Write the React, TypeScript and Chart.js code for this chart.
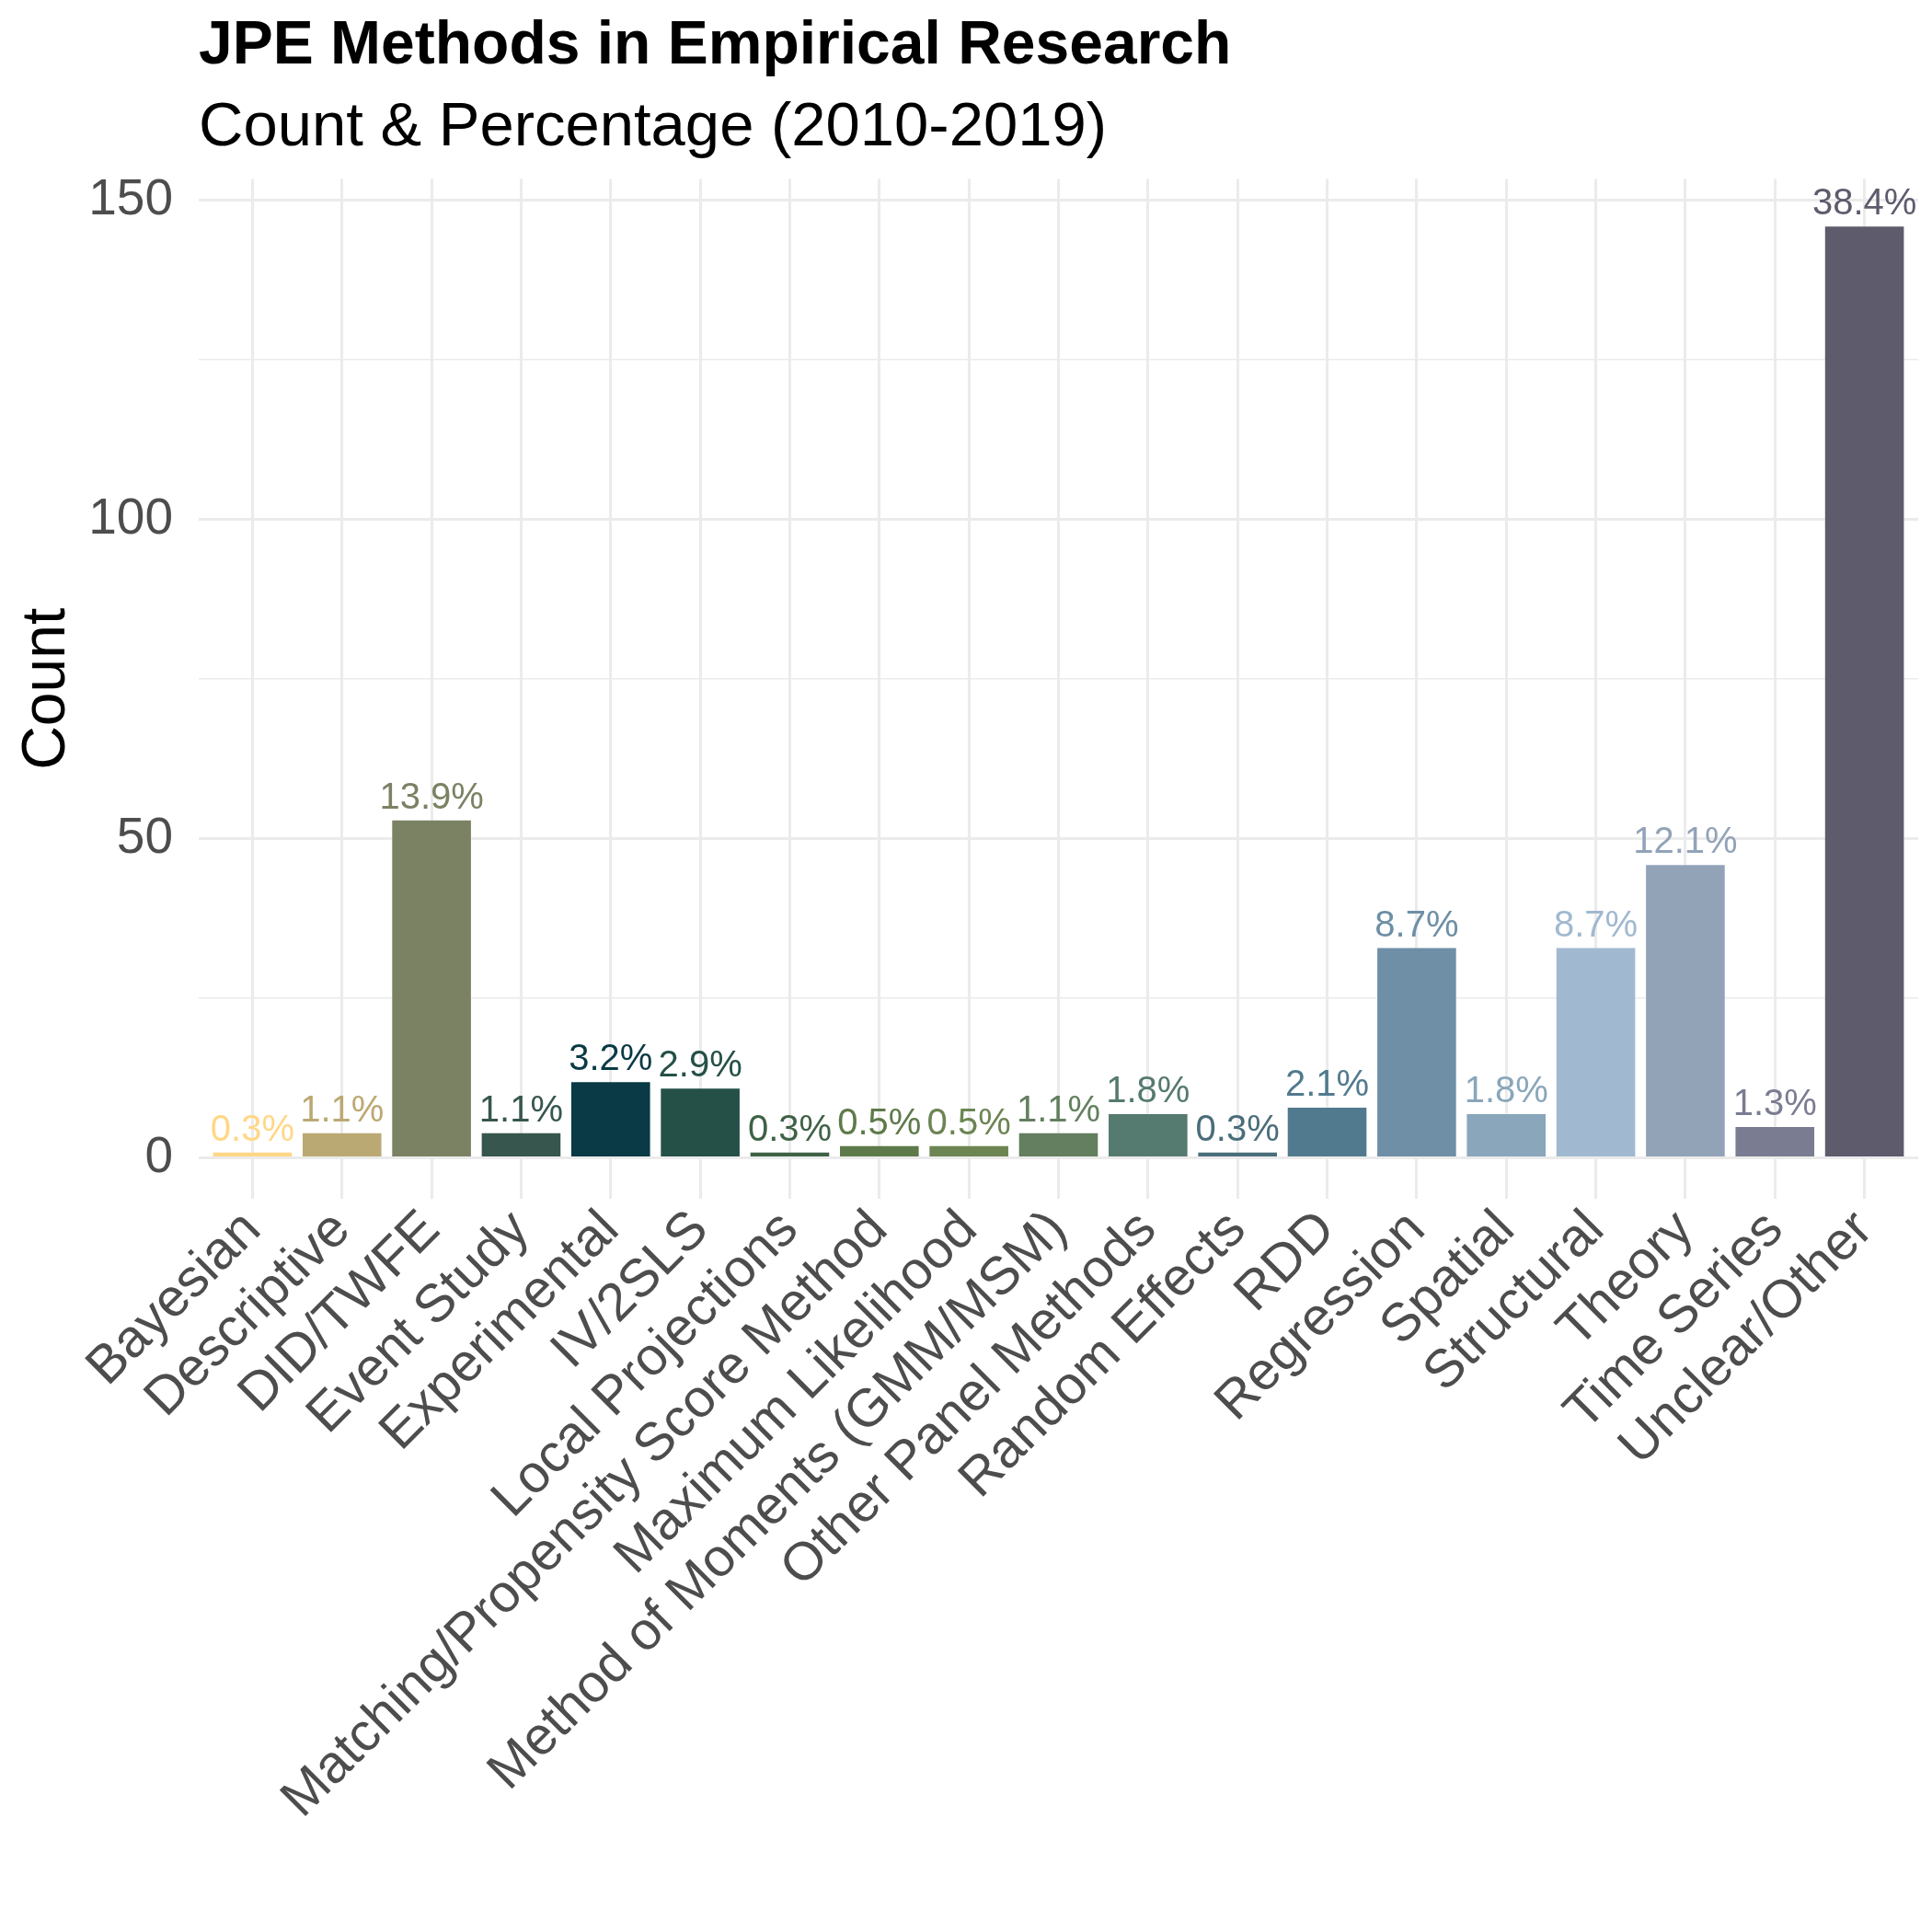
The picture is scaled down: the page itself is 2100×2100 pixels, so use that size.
import Chart from 'chart.js/auto';
import { useEffect, useRef } from 'react';

const categories = [
    'Bayesian', 'Descriptive', 'DID/TWFE', 'Event Study', 'Experimental', 'IV/2SLS',
    'Local Projections', 'Matching/Propensity Score Method', 'Maximum Likelihood',
    'Method of Moments (GMM/MSM)', 'Other Panel Methods', 'Random Effects', 'RDD',
    'Regression', 'Spatial', 'Structural', 'Theory', 'Time Series', 'Unclear/Other',
];

const counts = [1, 4, 53, 4, 12, 11, 1, 2, 2, 4, 7, 1, 8, 33, 7, 33, 46, 5, 146];

const pctLabels = [
    '0.3%', '1.1%', '13.9%', '1.1%', '3.2%', '2.9%', '0.3%', '0.5%', '0.5%', '1.1%',
    '1.8%', '0.3%', '2.1%', '8.7%', '1.8%', '8.7%', '12.1%', '1.3%', '38.4%',
];

const barColors = [
    '#FFD787', '#BBA973', '#7A8263', '#37564E', '#093A45', '#255048', '#3F6246',
    '#5E7A4A', '#6C8553', '#637F5F', '#557A70', '#4A6E7A', '#527A8E', '#6E8FA6',
    '#89A6BB', '#A1B9D0', '#92A3B8', '#7A7D91', '#5E5B6C',
];

const yTicks = [0, 25, 50, 75, 100, 125, 150];
const yLabels = [0, 50, 100, 150];

const FONT = '"Liberation Sans", Arial, Helvetica, sans-serif';

// draws the percentage text on top of each bar
const pctLabelPlugin = {
    id: 'pctLabels',
    afterDatasetsDraw(chart: any) {
        const ctx = chart.ctx;
        const meta = chart.getDatasetMeta(0);
        ctx.save();
        ctx.font = `40px ${FONT}`;
        ctx.textAlign = 'center';
        ctx.textBaseline = 'alphabetic';
        meta.data.forEach((bar: any, i: number) => {
            ctx.fillStyle = barColors[i];
            ctx.fillText(pctLabels[i], bar.x, bar.y - 12);
        });
        ctx.restore();
    },
};

export default function App() {
    const canvasRef = useRef<HTMLCanvasElement>(null);

    useEffect(() => {
        document.body.style.margin = '0';
        const ctx = canvasRef.current?.getContext('2d');
        if (!ctx) return;

        // x is a linear axis so the ggplot-like 0.6 padding on each side can be set
        const points = counts.map((c, i) => ({ x: i, y: c }));

        const chart = new Chart(ctx, {
            type: 'bar',
            data: {
                datasets: [
                    {
                        label: 'Count',
                        data: points,
                        backgroundColor: barColors,
                        borderColor: 'rgba(255,255,255,0.35)',
                        borderWidth: 1,
                        barPercentage: 0.9,
                        categoryPercentage: 1,
                    },
                ],
            },
            options: {
                responsive: false,
                animation: false,
                devicePixelRatio: 1,
                layout: { padding: { left: 0, right: 15, top: 0, bottom: 0 } },
                plugins: {
                    legend: { display: false },
                    tooltip: { enabled: false },
                    title: {
                        display: true,
                        text: 'JPE Methods in Empirical Research',
                        align: 'start',
                        fullSize: false,
                        color: '#000000',
                        font: { family: FONT, size: 66, weight: 'bold' },
                        padding: { top: 11, bottom: 0 },
                    },
                    subtitle: {
                        display: true,
                        text: 'Count & Percentage (2010-2019)',
                        align: 'start',
                        fullSize: false,
                        color: '#000000',
                        font: { family: FONT, size: 67 },
                        padding: { top: 9, bottom: 15 },
                    },
                },
                scales: {
                    x: {
                        type: 'linear',
                        offset: false,
                        min: -0.6,
                        max: categories.length - 0.4,
                        border: { display: false },
                        grid: { offset: false, color: '#EBEBEB', lineWidth: 3, drawTicks: false },
                        afterBuildTicks: (scale: any) => {
                            scale.ticks = categories.map((_, i) => ({ value: i }));
                        },
                        ticks: {
                            autoSkip: false,
                            maxRotation: 45,
                            minRotation: 45,
                            padding: 0,
                            color: '#4D4D4D',
                            font: { family: FONT, size: 58 },
                            callback: (v: any) => categories[Number(v)] ?? '',
                        },
                        afterFit: (scale: any) => {
                            scale.height = 797;
                        },
                    },
                    y: {
                        min: -6.4,
                        max: 153.3,
                        border: { display: false },
                        grid: {
                            color: '#EBEBEB',
                            drawTicks: false,
                            lineWidth: (c: any) => (c.tick && c.tick.value % 50 === 0 ? 3 : 1.5),
                        },
                        afterBuildTicks: (scale: any) => {
                            scale.ticks = yTicks.map((v) => ({ value: v }));
                        },
                        ticks: {
                            padding: 28,
                            color: '#4D4D4D',
                            font: { family: FONT, size: 55 },
                            callback: (v: any) => (yLabels.includes(Number(v)) ? String(v) : ''),
                        },
                        title: {
                            display: true,
                            text: 'Count',
                            color: '#000000',
                            font: { family: FONT, size: 66 },
                            padding: { top: 12, bottom: 0 },
                        },
                        afterFit: (scale: any) => {
                            scale.width = 216;
                        },
                    },
                },
            },
            plugins: [pctLabelPlugin],
        });

        return () => {
            chart.destroy();
        };
    }, []);

    return (
        <div style={{ width: 2100, height: 2100, background: '#ffffff' }}>
            <canvas ref={canvasRef} width={2100} height={2100} />
        </div>
    );
}
